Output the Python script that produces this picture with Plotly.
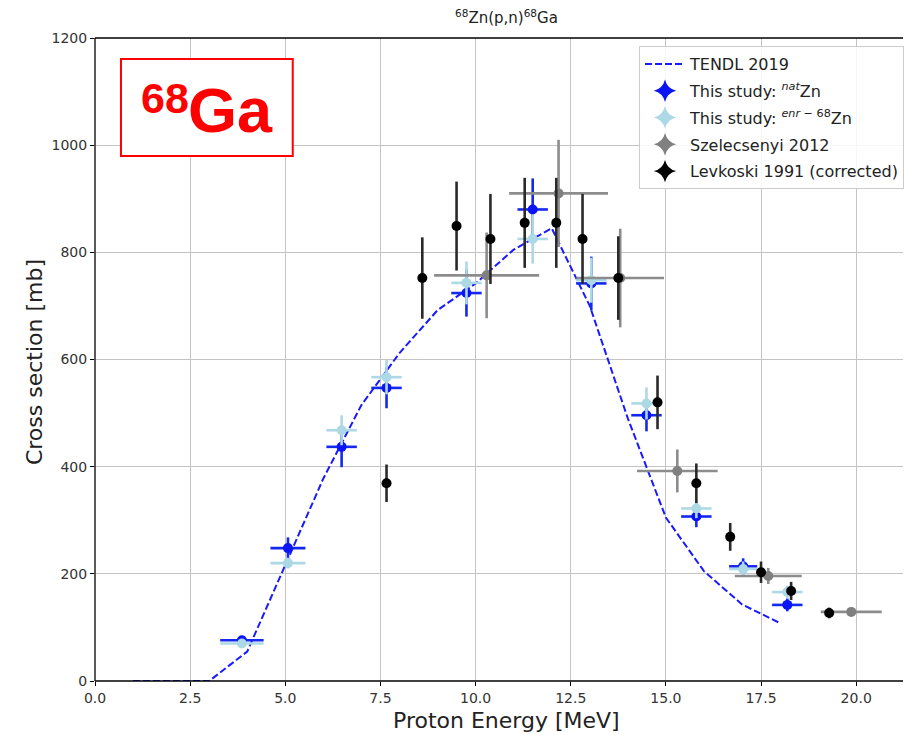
import plotly.graph_objects as go

# ---------------- data ----------------
tendl_e = [1, 2, 3, 4, 5, 6, 7, 8, 9, 10, 11, 12, 13, 14, 15, 16, 17, 18]
tendl_xs = [0, 0, 0, 55, 215, 378, 515, 612, 692, 742, 805, 845, 700, 490, 305, 205, 143, 108]

nat_e = [3.86, 5.07, 6.48, 7.66, 9.76, 11.50, 13.04, 14.49, 15.80, 17.03, 18.19]
nat_ee = [0.57, 0.46, 0.40, 0.40, 0.40, 0.40, 0.40, 0.40, 0.40, 0.37, 0.40]
nat_xs = [76, 248, 437, 547, 724, 880, 742, 496, 307, 214, 142]
nat_xse = [8, 20, 38, 38, 44, 58, 50, 30, 20, 15, 12]

enr_e = [3.86, 5.07, 6.48, 7.66, 9.76, 11.50, 13.04, 14.49, 15.80, 17.03, 18.19]
enr_ee = [0.57, 0.46, 0.40, 0.40, 0.40, 0.40, 0.40, 0.40, 0.40, 0.37, 0.40]
enr_xs = [70, 220, 468, 567, 743, 825, 748, 518, 322, 209, 166]
enr_xse = [6, 10, 28, 32, 40, 46, 42, 30, 18, 14, 12]

sz_e = [10.29, 12.18, 13.80, 15.30, 17.69, 19.87]
sz_ee = [1.38, 1.30, 1.15, 1.06, 0.88, 0.80]
sz_xs = [757, 910, 752, 392, 196, 129]
sz_xse = [80, 100, 92, 40, 15, 8]

lev_e = [7.66, 8.60, 9.50, 10.39, 11.29, 12.12, 12.81, 13.75, 14.78, 15.80, 16.69, 17.50, 18.29, 19.29]
lev_xs = [369, 752, 849, 825, 855, 855, 825, 752, 520, 369, 269, 203, 168, 127]
lev_xse = [35, 76, 83, 84, 84, 84, 84, 78, 50, 37, 26, 20, 17, 10]

x_ticks = [0, 2.5, 5, 7.5, 10, 12.5, 15, 17.5, 20]
y_ticks = [0, 200, 400, 600, 800, 1000, 1200]

FONT = "DejaVu Sans"

fig = go.Figure()

fig.add_trace(go.Scatter(
    x=tendl_e, y=tendl_xs, mode="lines", name="TENDL 2019",
    legendgroup="g0",
    line=dict(color="#1a1aff", width=2, dash="7px,3px")))


def add_err(x, y, xe, ye, color, ecolor, name, grp):
    fig.add_trace(go.Scatter(
        x=x, y=y, mode="markers", name=name, showlegend=False, legendgroup=grp,
        marker=dict(color=color, size=10, line=dict(width=0)),
        error_x=dict(type="data", array=xe, visible=True, color=ecolor,
                     thickness=2.6, width=0) if xe is not None else None,
        error_y=dict(type="data", array=ye, visible=True, color=ecolor,
                     thickness=2.6, width=0)))
    # legend handle (marker + error-bar cross look)
    fig.add_trace(go.Scatter(
        x=[None], y=[None], mode="markers", name=name, legendgroup=grp,
        marker=dict(color=color, size=17, symbol="star-diamond", line=dict(width=0))))


add_err(nat_e, nat_xs, nat_ee, nat_xse, "#0a14f5", "#1428f0", "This study: <sup><i>nat</i></sup>Zn", "g1")
add_err(enr_e, enr_xs, enr_ee, enr_xse, "#add8e6", "#add8e6", "This study: <sup><i>enr</i> − 68</sup>Zn", "g2")
add_err(sz_e, sz_xs, sz_ee, sz_xse, "#808080", "#8c8c8c", "Szelecsenyi 2012", "g3")
add_err(lev_e, lev_xs, None, lev_xse, "#000000", "#2a2a2a", "Levkoski 1991 (corrected)", "g4")

W, H = 904, 735
L, R, T, B = 95, 0, 38, 54
pw, ph = W - L - R, H - T - B


def px(xp):  # screen x -> paper
    return (xp - L) / pw


def py(yp):  # screen y -> paper
    return (H - B - yp) / ph


axis_line = dict(color="#000000", width=1.3)

fig.update_layout(
    width=W, height=H,
    margin=dict(l=L, r=R, t=T, b=B),
    paper_bgcolor="white", plot_bgcolor="white",
    font=dict(family=FONT, color="#222222"),
    showlegend=True,
    legend=dict(
        x=px(640), y=py(46), xanchor="left", yanchor="top",
        font=dict(family=FONT, size=16, color="#222222"),
        bgcolor="rgba(255,255,255,0.85)", bordercolor="#cccccc", borderwidth=1,
        itemwidth=40, tracegroupgap=3, traceorder="grouped"),
    xaxis=dict(
        range=[0, 21.23], tickmode="array", tickvals=x_ticks,
        ticktext=[f"{v:.1f}" for v in x_ticks],
        showgrid=True, gridcolor="#c4c4c4", gridwidth=1,
        showline=False, mirror=False,
        ticks="outside", ticklen=4, tickcolor="#000000",
        tickfont=dict(family=FONT, size=14, color="#333333"), zeroline=False),
    yaxis=dict(
        range=[0, 1200], tickmode="array", tickvals=y_ticks,
        ticktext=[str(v) for v in y_ticks],
        showgrid=True, gridcolor="#c4c4c4", gridwidth=1,
        showline=False, mirror=False,
        ticks="outside", ticklen=4, tickcolor="#000000",
        tickfont=dict(family=FONT, size=14, color="#333333"), zeroline=False),
    shapes=[
        dict(type="line", xref="paper", yref="paper", x0=0, x1=1, y0=1, y1=1,
             line=axis_line, layer="above"),
        dict(type="line", xref="paper", yref="paper", x0=0, x1=1, y0=0, y1=0,
             line=axis_line, layer="above"),
        dict(type="line", xref="paper", yref="paper", x0=0, x1=0, y0=0, y1=1,
             line=axis_line, layer="above"),
        dict(type="rect", xref="paper", yref="paper",
             x0=px(121), x1=px(293), y0=py(156), y1=py(59),
             line=dict(color="#ff0000", width=2), fillcolor="white",
             layer="above")],
    annotations=[
        dict(text="<sup>68</sup>Zn(p,n)<sup>68</sup>Ga", xref="paper", yref="paper",
             x=px(507), y=py(17), xanchor="center", yanchor="middle", showarrow=False,
             font=dict(family=FONT, size=15, color="#222222")),
        dict(text="Proton Energy [MeV]", xref="paper", yref="paper",
             x=px(507), y=py(720), xanchor="center", yanchor="middle", showarrow=False,
             font=dict(family=FONT, size=22, color="#222222")),
        dict(text="Cross section [mb]", xref="paper", yref="paper", textangle=-90,
             x=px(34), y=py(362), xanchor="center", yanchor="middle", showarrow=False,
             font=dict(family=FONT, size=22, color="#222222")),
        dict(text="<b>68</b>", xref="paper", yref="paper",
             x=px(165), y=py(98), xanchor="center", yanchor="middle", showarrow=False,
             font=dict(family="Liberation Sans, Arial", size=43, color="#ff0000")),
        dict(text="<b>Ga</b>", xref="paper", yref="paper",
             x=px(231), y=py(110.5), xanchor="center", yanchor="middle", showarrow=False,
             font=dict(family="Liberation Sans, Arial", size=63, color="#ff0000")),
    ],
)

fig.write_html(
    "out.html",
    config={"displayModeBar": False},
    post_script="document.body.style.margin='0px';"
                "document.documentElement.style.overflow='hidden';"
                "document.body.style.overflow='hidden';")
